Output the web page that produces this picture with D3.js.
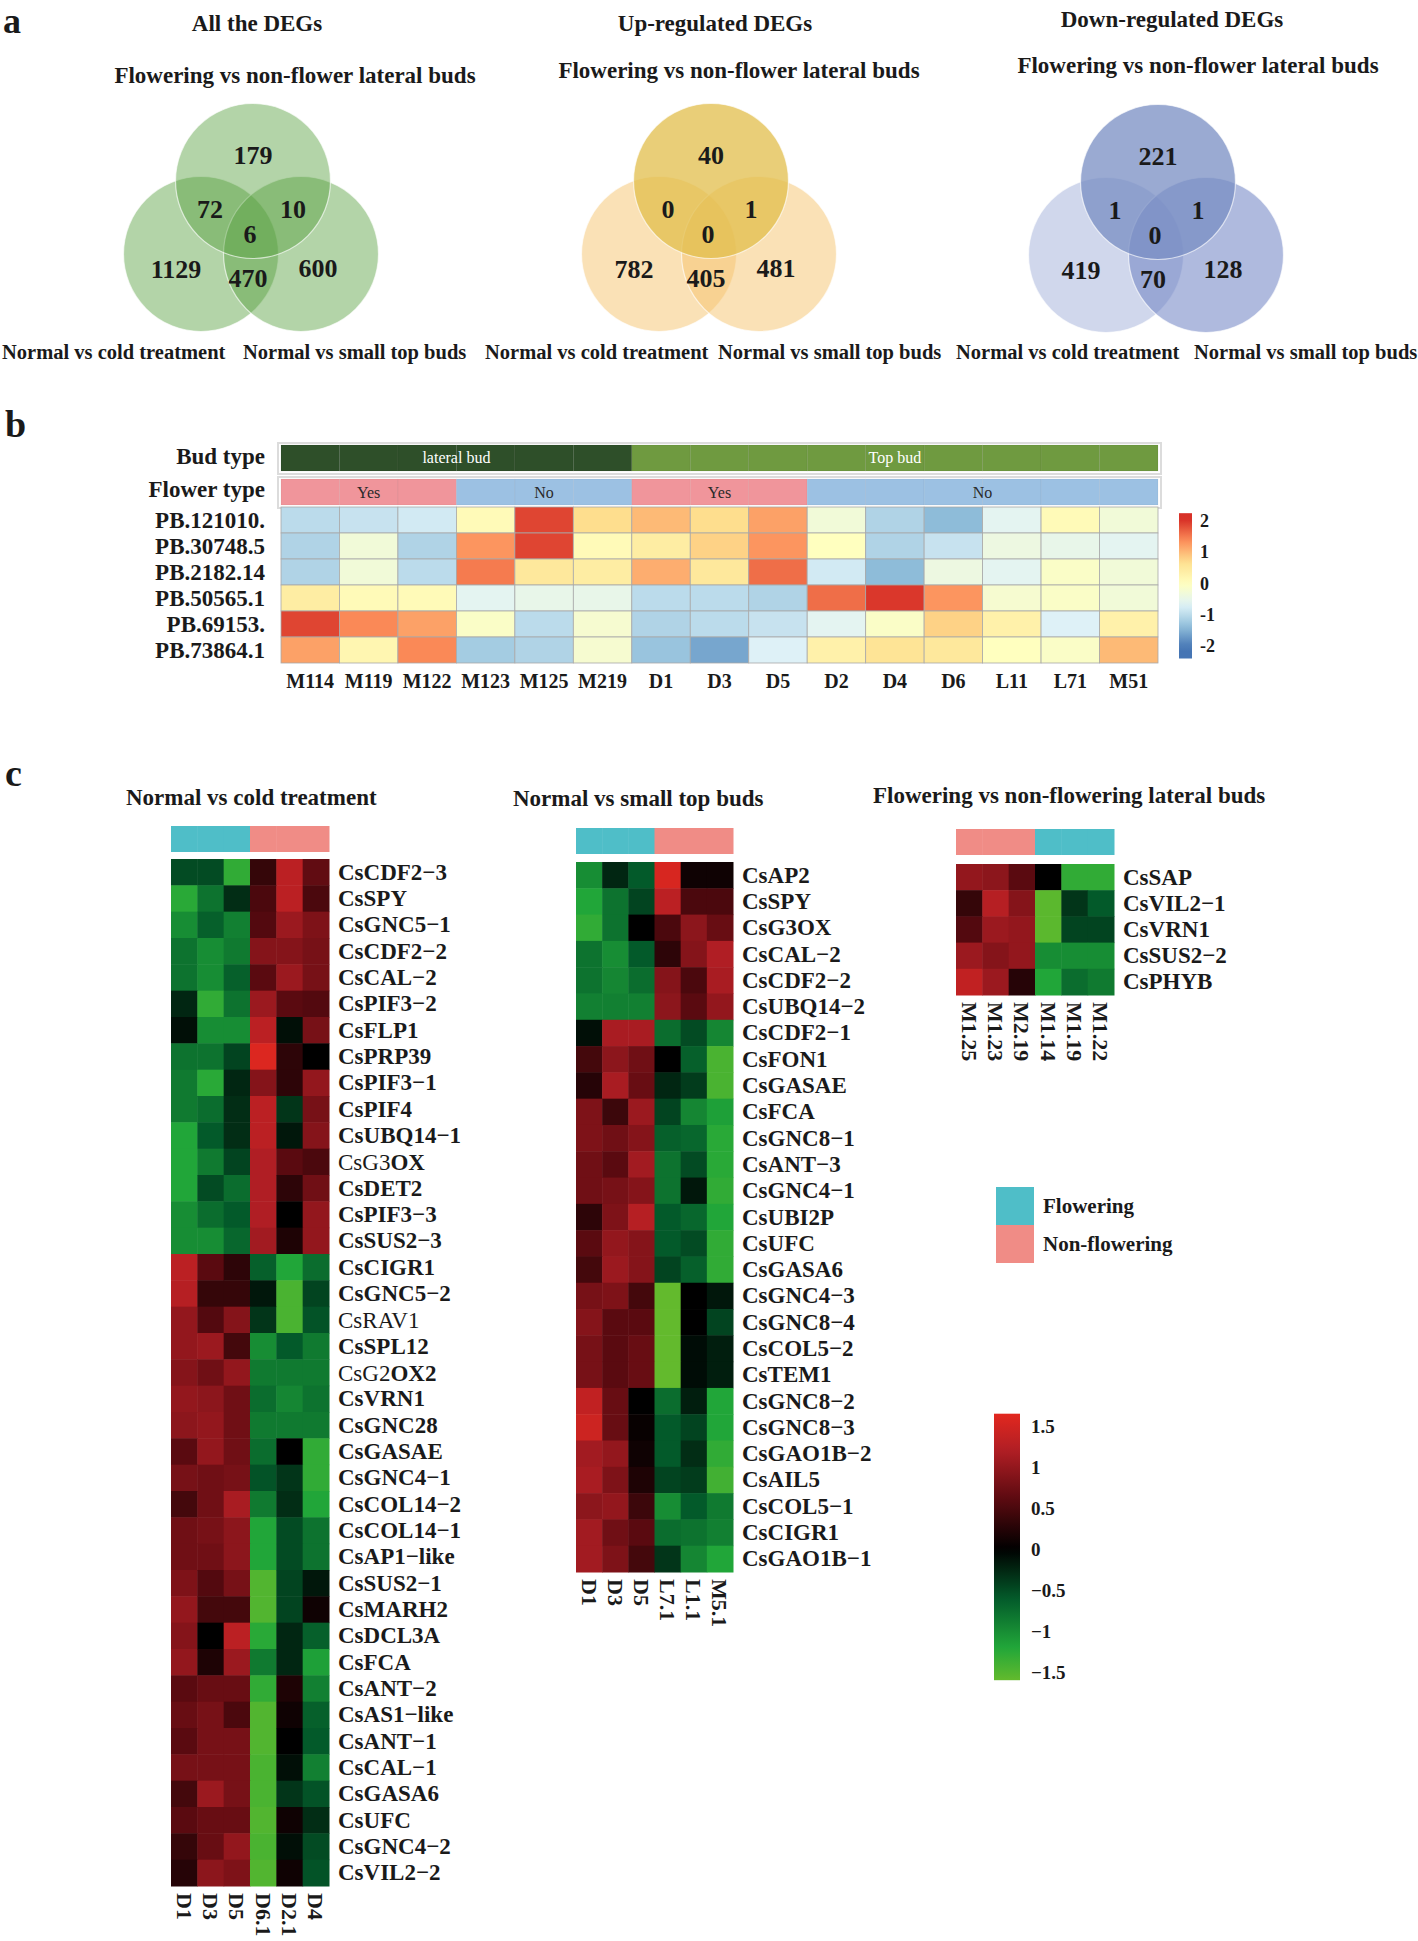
<!DOCTYPE html>
<html><head><meta charset="utf-8">
<script src="https://cdn.jsdelivr.net/npm/d3@7"></script>
<style>
body{margin:0;background:#fff}
svg text{font-family:"Liberation Serif","Times New Roman",serif}
</style>
</head><body>
<svg id="fig" width="1418" height="1941"></svg>
<script>
// ================= DATA =================
// Panel a : Venn diagrams. Region order: [top only, top∩left, top∩right, all three, left only, left∩right, right only]
const vennTitles = ["All the DEGs", "Up-regulated DEGs", "Down-regulated DEGs"];
const vennSetTop = "Flowering vs non-flower lateral buds";
const vennSetLeft = "Normal vs cold treatment";
const vennSetRight = "Normal vs small top buds";
const vennAllCounts = [179, 72, 10, 6, 1129, 470, 600];
const vennUpCounts = [40, 0, 1, 0, 782, 405, 481];
const vennDownCounts = [221, 1, 1, 0, 419, 70, 128];

// Panel b : expression heatmap
const bColumns = ["M114","M119","M122","M123","M125","M219","D1","D3","D5","D2","D4","D6","L11","L71","M51"];
const bRows = ["PB.121010.","PB.30748.5","PB.2182.14","PB.50565.1","PB.69153.","PB.73864.1"];
const bBudType = ["lateral bud","lateral bud","lateral bud","lateral bud","lateral bud","lateral bud","Top bud","Top bud","Top bud","Top bud","Top bud","Top bud","Top bud","Top bud","Top bud"];
const bFlowerType = ["Yes","Yes","Yes","No","No","No","Yes","Yes","Yes","No","No","No","No","No","No"];
const bValues = [
  [-1.0,-0.9,-0.8, 0.1, 1.9, 0.7, 1.0, 0.7, 1.2,-0.3,-1.1,-1.4,-0.6, 0.1,-0.3],
  [-1.1,-0.3,-1.1, 1.3, 1.9, 0.1, 0.4, 0.8, 1.3, 0.0,-1.1,-0.9,-0.4,-0.5,-0.6],
  [-1.1,-0.3,-1.0, 1.5, 0.5, 0.4, 1.1, 0.5, 1.6,-0.8,-1.4,-0.4,-0.6,-0.1,-0.3],
  [ 0.4, 0.1, 0.1,-0.6,-0.5,-0.5,-1.0,-1.0,-1.1, 1.6, 2.0, 1.3,-0.2,-0.1,-0.3],
  [ 1.9, 1.4, 1.2,-0.1,-1.0,-0.2,-1.1,-1.0,-0.9,-0.6,-0.1, 0.8, 0.3,-0.7, 0.3],
  [ 1.2, 0.2, 1.4,-1.2,-1.1,-0.2,-1.3,-1.6,-0.7, 0.3, 0.6, 0.5, 0.0,-0.1, 1.0]
];
const bTicks = [2, 1, 0, -1, -2];

// Panel c : three heatmaps
const coldGenes = ["CsCDF2−3","CsSPY","CsGNC5−1","CsCDF2−2","CsCAL−2","CsPIF3−2","CsFLP1","CsPRP39","CsPIF3−1","CsPIF4","CsUBQ14−1","CsG3OX","CsDET2","CsPIF3−3","CsSUS2−3","CsCIGR1","CsGNC5−2","CsRAV1","CsSPL12","CsG2OX2","CsVRN1","CsGNC28","CsGASAE","CsGNC4−1","CsCOL14−2","CsCOL14−1","CsAP1−like","CsSUS2−1","CsMARH2","CsDCL3A","CsFCA","CsANT−2","CsAS1−like","CsANT−1","CsCAL−1","CsGASA6","CsUFC","CsGNC4−2","CsVIL2−2"];
const coldSamples = ["D1","D3","D5","D6.1","D2.1","D4"];
const coldGroups = ["Flowering","Flowering","Flowering","Non-flowering","Non-flowering","Non-flowering"];
const coldValues = [
  [-0.5,-0.5,-1.3,0.35,1.3,0.65],
  [-1.25,-0.8,-0.3,0.5,1.3,0.5],
  [-1.0,-0.65,-0.9,0.55,1.05,0.85],
  [-0.8,-1.0,-0.85,0.9,0.9,0.8],
  [-0.8,-1.0,-0.65,0.6,1.05,0.8],
  [-0.25,-1.3,-0.8,1.05,0.6,0.55],
  [-0.1,-1.0,-1.0,1.3,-0.1,0.8],
  [-0.8,-0.8,-0.45,1.6,0.3,0.0],
  [-0.85,-1.25,-0.25,0.9,0.3,1.0],
  [-0.85,-0.75,-0.3,1.3,-0.35,0.8],
  [-1.2,-0.6,-0.3,1.3,-0.15,0.9],
  [-1.2,-0.85,-0.45,1.2,0.6,0.5],
  [-1.2,-0.5,-0.75,1.2,0.3,0.75],
  [-1.0,-0.75,-0.6,1.2,0.0,1.0],
  [-1.0,-1.0,-0.7,1.1,0.2,1.0],
  [1.3,0.6,0.3,-0.65,-1.2,-0.75],
  [1.25,0.35,0.35,-0.15,-1.45,-0.45],
  [1.0,0.55,0.9,-0.35,-1.45,-0.55],
  [1.0,1.05,0.45,-1.0,-0.6,-0.85],
  [0.9,0.75,1.0,-0.85,-0.85,-0.85],
  [1.0,0.95,0.75,-0.75,-0.95,-0.8],
  [0.95,1.0,0.75,-0.85,-0.85,-0.85],
  [0.6,1.0,0.75,-0.75,0.0,-1.3],
  [0.8,0.75,0.8,-0.55,-0.35,-1.3],
  [0.45,0.75,1.15,-0.85,-0.3,-1.2],
  [0.75,0.8,0.95,-1.2,-0.5,-0.8],
  [0.75,0.75,0.95,-1.2,-0.5,-0.8],
  [0.85,0.55,0.8,-1.5,-0.45,-0.15],
  [1.0,0.45,0.45,-1.5,-0.45,0.1],
  [0.9,0.0,1.3,-1.25,-0.25,-0.65],
  [1.0,0.2,1.05,-0.85,-0.25,-1.15],
  [0.6,0.7,0.7,-1.3,0.2,-0.9],
  [0.7,0.8,0.5,-1.5,0.1,-0.65],
  [0.6,0.8,0.8,-1.5,0.0,-0.6],
  [0.8,0.8,0.8,-1.45,-0.1,-0.9],
  [0.45,1.05,0.8,-1.45,-0.35,-0.55],
  [0.6,0.7,0.7,-1.5,0.1,-0.3],
  [0.35,0.7,1.0,-1.45,-0.1,-0.5],
  [0.25,0.95,0.85,-1.5,0.1,-0.55]
];

const topGenes = ["CsAP2","CsSPY","CsG3OX","CsCAL−2","CsCDF2−2","CsUBQ14−2","CsCDF2−1","CsFON1","CsGASAE","CsFCA","CsGNC8−1","CsANT−3","CsGNC4−1","CsUBI2P","CsUFC","CsGASA6","CsGNC4−3","CsGNC8−4","CsCOL5−2","CsTEM1","CsGNC8−2","CsGNC8−3","CsGAO1B−2","CsAIL5","CsCOL5−1","CsCIGR1","CsGAO1B−1"];
const topSamples = ["D1","D3","D5","L7.1","L1.1","M5.1"];
const topGroups = ["Flowering","Flowering","Flowering","Non-flowering","Non-flowering","Non-flowering"];
const topValues = [
  [-1.0,-0.25,-0.6,1.55,0.1,0.1],
  [-1.2,-0.8,-0.45,1.3,0.5,0.5],
  [-1.3,-0.8,0.0,0.5,0.95,0.7],
  [-0.8,-1.0,-0.6,0.3,0.9,1.2],
  [-0.8,-0.95,-0.75,0.9,0.5,1.15],
  [-0.9,-0.9,-0.9,0.95,0.6,1.0],
  [-0.1,1.15,1.15,-0.75,-0.5,-0.95],
  [0.45,0.95,0.75,0.0,-0.65,-1.45],
  [0.25,1.15,0.7,-0.25,-0.4,-1.45],
  [0.85,0.4,1.05,-0.45,-0.95,-1.15],
  [0.85,0.75,0.9,-0.65,-0.7,-1.25],
  [0.75,0.6,1.1,-0.8,-0.5,-1.25],
  [0.75,0.8,0.9,-0.8,-0.15,-1.3],
  [0.3,0.85,1.25,-0.6,-0.7,-1.2],
  [0.6,1.0,0.9,-0.6,-0.5,-1.3],
  [0.45,1.05,0.9,-0.45,-0.65,-1.3],
  [0.8,0.85,0.45,-1.6,0.0,-0.15],
  [0.9,0.6,0.6,-1.6,0.0,-0.45],
  [0.8,0.6,0.7,-1.6,-0.08,-0.2],
  [0.8,0.6,0.7,-1.6,-0.08,-0.2],
  [1.35,0.7,0.0,-0.75,-0.2,-1.2],
  [1.45,0.7,0.05,-0.6,-0.45,-1.2],
  [1.1,1.0,0.1,-0.6,-0.3,-1.3],
  [1.15,0.85,0.2,-0.45,-0.4,-1.4],
  [0.95,1.0,0.4,-1.0,-0.6,-0.85],
  [1.1,0.75,0.6,-0.75,-0.8,-0.9],
  [1.1,0.85,0.45,-0.35,-0.95,-1.2]
];

const latGenes = ["CsSAP","CsVIL2−1","CsVRN1","CsSUS2−2","CsPHYB"];
const latSamples = ["M1.25","M1.23","M2.19","M1.14","M1.19","M1.22"];
const latGroups = ["Non-flowering","Non-flowering","Non-flowering","Flowering","Flowering","Flowering"];
const latValues = [
  [1.0,0.95,0.6,0.0,-1.3,-1.3],
  [0.35,1.25,0.9,-1.55,-0.35,-0.6],
  [0.55,1.05,1.0,-1.55,-0.45,-0.45],
  [1.05,0.9,1.0,-1.0,-1.0,-1.0],
  [1.35,1.05,0.25,-1.2,-0.75,-0.85]
];
const cTicks = [1.5, 1, 0.5, 0, -0.5, -1, -1.5];
const groupLegend = ["Flowering", "Non-flowering"];
// labels whose first part is printed in regular weight
const partialWeight = {"CsG3OX": ["CsG3","OX"], "CsG2OX2": ["CsG2","OX2"], "CsRAV1": ["CsRAV1",""]};

// ================= DRAWING =================
const svg = d3.select("#fig");
const INK = "#1a1a1a";

function label(g, x, y, s, size, opts = {}) {
  return g.append("text").attr("x", x).attr("y", y)
    .attr("font-size", size).attr("font-weight", opts.weight || "bold")
    .attr("text-anchor", opts.anchor || "start")
    .attr("fill", opts.fill || INK)
    .attr("dominant-baseline", opts.baseline || "auto")
    .text(s);
}

// ---- panel letters
label(svg, 3, 33, "a", 36);
label(svg, 5, 437, "b", 38);
label(svg, 5, 786, "c", 38);

// ---- panel a : Venn
const vennPanels = [
  {title: vennTitles[0], counts: vennAllCounts, X: 253, Y: 181, tX: 257, tY: 31, sX: 295, sY: 83, lX: 2, rX: 243,
   fills: [["#56a03e",0.45],["#56a03e",0.45],["#56a03e",0.45]]},
  {title: vennTitles[1], counts: vennUpCounts, X: 711, Y: 181, tX: 715, tY: 31, sX: 739, sY: 78, lX: 485, rX: 718,
   fills: [["#f5c36e",0.5],["#f5c36e",0.5],["#e2be4b",0.75]]},
  {title: vennTitles[2], counts: vennDownCounts, X: 1158, Y: 182, tX: 1172, tY: 27, sX: 1198, sY: 73, lX: 956, rX: 1194,
   fills: [["#788cc8",0.35],["#6e82c3",0.55],["#788ec3",0.75]]}
];
const R = 77.5;
const regionOffsets = [[0,-26],[-43,28],[40,28],[-3,53],[-77,88],[-5,97],[65,87]];
vennPanels.forEach(p => {
  const g = svg.append("g");
  const circles = [[p.X - 52, p.Y + 73], [p.X + 48, p.Y + 73], [p.X, p.Y]];
  circles.forEach((c, i) => {
    g.append("circle").attr("cx", c[0]).attr("cy", c[1]).attr("r", R)
      .attr("fill", p.fills[i][0]).attr("fill-opacity", p.fills[i][1])
      .attr("stroke", "rgba(255,255,255,0.65)").attr("stroke-width", 1.2);
  });
  p.counts.forEach((v, i) => {
    label(g, p.X + regionOffsets[i][0], p.Y + regionOffsets[i][1], String(v), 26, {anchor: "middle", baseline: "central"});
  });
  label(g, p.tX, p.tY, p.title, 23, {anchor: "middle"});
  label(g, p.sX, p.sY, vennSetTop, 23, {anchor: "middle"});
  label(g, p.lX, 359, vennSetLeft, 20.5);
  label(g, p.rX, 359, vennSetRight, 20.5);
});

// ---- panel b
const gb = svg.append("g");
const bx = d3.scaleBand().domain(bColumns).range([281, 1158]);
const by = d3.scaleBand().domain(bRows).range([507, 663]);
const bColor = d3.scaleLinear()
  .domain([-2.05,-1.37,-0.68,0,0.68,1.37,2.05])
  .range(["#4575B4","#91BFDB","#E0F3F8","#FFFFBF","#FEE090","#FC8D59","#D73027"]).clamp(true);
const budColor = {"lateral bud": "#2e4f29", "Top bud": "#6f9a40"};
const flowerColor = {"Yes": "#f0959b", "No": "#9cc1e3"};

// annotation frames
[[443, 474],[477, 508]].forEach(([y0, y1]) => {
  gb.append("rect").attr("x", 278).attr("y", y0).attr("width", 1161 - 278).attr("height", y1 - y0)
    .attr("fill", "none").attr("stroke", "#dcdcdc").attr("stroke-width", 2);
});
bColumns.forEach((c, i) => {
  gb.append("rect").attr("x", bx(c)).attr("y", 445).attr("width", bx.bandwidth()).attr("height", 26)
    .attr("fill", budColor[bBudType[i]]).attr("stroke", "rgba(0,0,0,0.07)").attr("stroke-width", 0.8);
  gb.append("rect").attr("x", bx(c)).attr("y", 479).attr("width", bx.bandwidth()).attr("height", 26)
    .attr("fill", flowerColor[bFlowerType[i]]).attr("stroke", "rgba(0,0,0,0.05)").attr("stroke-width", 0.8);
});
function runs(arr) {
  const out = []; let s = 0;
  for (let i = 1; i <= arr.length; i++) {
    if (i === arr.length || arr[i] !== arr[s]) { out.push({v: arr[s], a: s, b: i - 1}); s = i; }
  }
  return out;
}
runs(bBudType).forEach(r => {
  const cx = (bx(bColumns[r.a]) + bx(bColumns[r.b]) + bx.bandwidth()) / 2;
  label(gb, cx, 463, r.v, 16, {anchor: "middle", weight: "normal", fill: "#ffffff"});
});
runs(bFlowerType).forEach(r => {
  const cx = (bx(bColumns[r.a]) + bx(bColumns[r.b]) + bx.bandwidth()) / 2;
  label(gb, cx, 498, r.v, 16, {anchor: "middle", weight: "normal", fill: "#2a2a2a"});
});
label(gb, 265, 464, "Bud type", 23, {anchor: "end"});
label(gb, 265, 497, "Flower type", 23, {anchor: "end"});

bRows.forEach((r, j) => {
  bColumns.forEach((c, i) => {
    gb.append("rect").attr("x", bx(c)).attr("y", by(r)).attr("width", bx.bandwidth()).attr("height", by.bandwidth())
      .attr("fill", bColor(bValues[j][i])).attr("stroke", "#a9a9a9").attr("stroke-width", 0.8);
  });
  label(gb, 265, by(r) + by.bandwidth() / 2, r, 23, {anchor: "end", baseline: "central"});
});
bColumns.forEach(c => label(gb, bx(c) + bx.bandwidth() / 2, 688, c, 20, {anchor: "middle"}));

// colour bar b
const defs = svg.append("defs");
const cbB = d3.scaleLinear().domain([-2, 2]).range([646, 521]);
const gradB = defs.append("linearGradient").attr("id", "gradB").attr("x1", 0).attr("y1", 0).attr("x2", 0).attr("y2", 1);
const bTop = 2.25, bBot = -2.4;
d3.range(0, 21).forEach(k => {
  const v = bTop - k * (bTop - bBot) / 20;
  gradB.append("stop").attr("offset", (k / 20)).attr("stop-color", bColor(v));
});
gb.append("rect").attr("x", 1179).attr("y", cbB(bTop)).attr("width", 13).attr("height", cbB(bBot) - cbB(bTop))
  .attr("fill", "url(#gradB)");
bTicks.forEach(t => label(gb, 1200, cbB(t), String(t), 18, {baseline: "central"}));

// ---- panel c
const cColor = d3.scaleLinear()
  .domain([-1.65, -1.2, -0.6, 0, 0.6, 1.2, 1.65])
  .range(["#6bbd2b", "#21a639", "#035a2a", "#000000", "#5a0a10", "#b01e24", "#e2281f"]).clamp(true);
const groupColor = {"Flowering": "#4fbec8", "Non-flowering": "#f08c86"};

function heatmap(opt) {
  const g = svg.append("g");
  const x = d3.scaleBand().domain(opt.samples).range([opt.x0, opt.x1]);
  const y = d3.scaleBand().domain(opt.genes).range([opt.y0, opt.y1]);
  label(g, opt.titleX, opt.titleY, opt.title, 23);
  opt.samples.forEach((s, i) => {
    g.append("rect").attr("x", x(s)).attr("y", opt.annY).attr("width", x.bandwidth() + 0.5).attr("height", 26)
      .attr("fill", groupColor[opt.groups[i]]);
  });
  opt.genes.forEach((gname, j) => {
    opt.samples.forEach((s, i) => {
      g.append("rect").attr("x", x(s)).attr("y", y(gname)).attr("width", x.bandwidth() + 0.5).attr("height", y.bandwidth() + 0.5)
        .attr("fill", cColor(opt.values[j][i]));
    });
    const t = g.append("text").attr("x", opt.x1 + 9).attr("y", y(gname) + y.bandwidth() / 2)
      .attr("font-size", 23).attr("dominant-baseline", "central").attr("fill", INK);
    const pw = opt.partial ? partialWeight[gname] : null;
    if (pw) {
      t.append("tspan").attr("font-weight", "normal").text(pw[0]);
      if (pw[1]) t.append("tspan").attr("font-weight", "bold").text(pw[1]);
    } else {
      t.attr("font-weight", "bold").text(gname);
    }
  });
  opt.samples.forEach(s => {
    g.append("text").attr("transform", `translate(${x(s) + x.bandwidth() / 2},${opt.y1 + 7}) rotate(90)`)
      .attr("font-size", 22).attr("font-weight", "bold").attr("dominant-baseline", "central")
      .attr("fill", INK).text(s);
  });
}
heatmap({title: "Normal vs cold treatment", titleX: 126, titleY: 805, genes: coldGenes, samples: coldSamples,
  groups: coldGroups, values: coldValues, x0: 171, x1: 329, y0: 859, y1: 1886, annY: 826, partial: true});
heatmap({title: "Normal vs small top buds", titleX: 513, titleY: 806, genes: topGenes, samples: topSamples,
  groups: topGroups, values: topValues, x0: 576, x1: 733, y0: 862, y1: 1572, annY: 828, partial: false});
heatmap({title: "Flowering vs  non-flowering lateral buds", titleX: 873, titleY: 803, genes: latGenes, samples: latSamples,
  groups: latGroups, values: latValues, x0: 956, x1: 1114, y0: 864, y1: 995, annY: 829, partial: false});

// group legend
const gl = svg.append("g");
groupLegend.forEach((gname, i) => {
  gl.append("rect").attr("x", 996).attr("y", 1187 + i * 38).attr("width", 38).attr("height", 38).attr("fill", groupColor[gname]);
  label(gl, 1043, 1206 + i * 38, gname, 21, {baseline: "central"});
});
// colour bar c
const cbC = d3.scaleLinear().domain([-1.5, 1.5]).range([1672, 1426]);
const cTop = 1.65, cBot = -1.6;
const gradC = defs.append("linearGradient").attr("id", "gradC").attr("x1", 0).attr("y1", 0).attr("x2", 0).attr("y2", 1);
d3.range(0, 41).forEach(k => {
  const v = cTop - k * (cTop - cBot) / 40;
  gradC.append("stop").attr("offset", k / 40).attr("stop-color", cColor(v));
});
gl.append("rect").attr("x", 994).attr("y", cbC(cTop)).attr("width", 26).attr("height", cbC(cBot) - cbC(cTop)).attr("fill", "url(#gradC)");
cTicks.forEach(t => label(gl, 1031, cbC(t), (t < 0 ? "−" : "") + String(Math.abs(t)), 19, {baseline: "central"}));
</script>
</body></html>
